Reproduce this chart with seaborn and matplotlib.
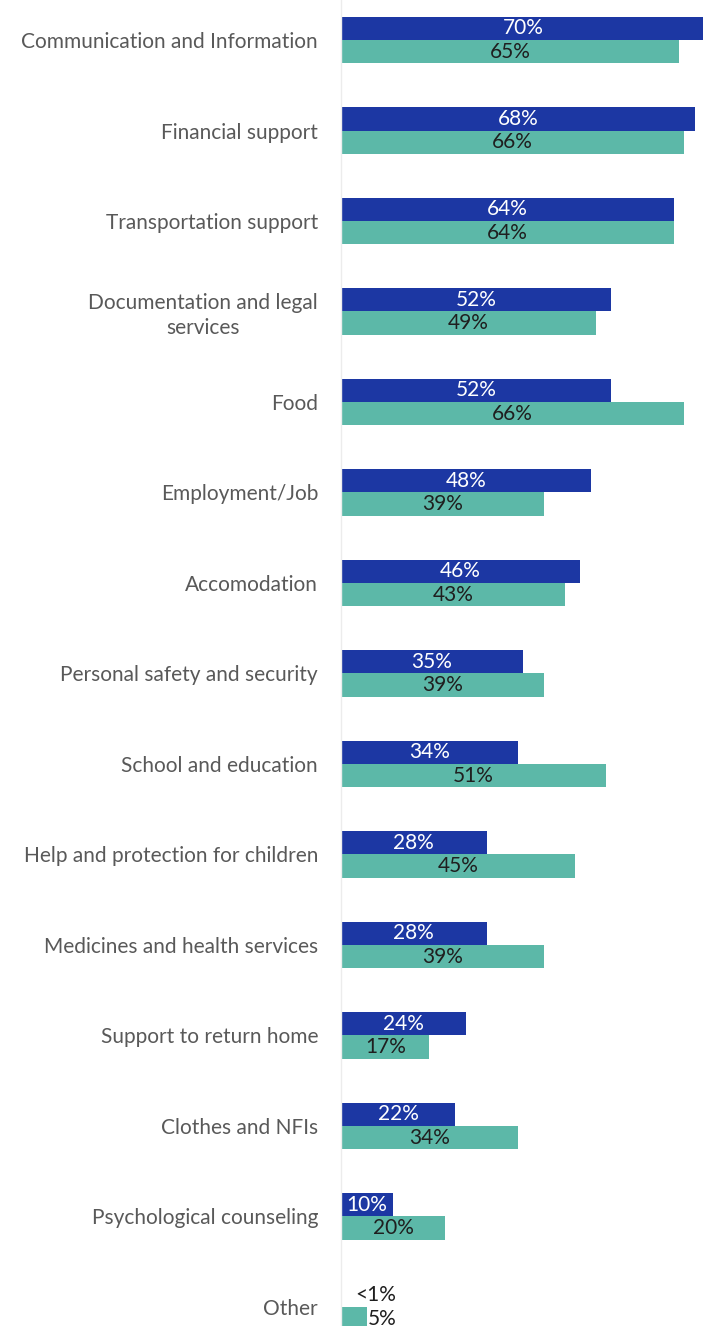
import pandas as pd
import seaborn as sns
import matplotlib.pyplot as plt

# Needs reported, share of respondents (%)
categories = [
    "Communication and Information",
    "Financial support",
    "Transportation support",
    "Documentation and legal\nservices",
    "Food",
    "Employment/Job",
    "Accomodation",
    "Personal safety and security",
    "School and education",
    "Help and protection for children",
    "Medicines and health services",
    "Support to return home",
    "Clothes and NFIs",
    "Psychological counseling",
    "Other",
]
series_a = [70, 68, 64, 52, 52, 48, 46, 35, 34, 28, 28, 24, 22, 10, 0.2]
series_b = [65, 66, 64, 49, 66, 39, 43, 39, 51, 45, 39, 17, 34, 20, 5]
labels_a = ["70%", "68%", "64%", "52%", "52%", "48%", "46%", "35%", "34%", "28%",
            "28%", "24%", "22%", "10%", "<1%"]
labels_b = ["65%", "66%", "64%", "49%", "66%", "39%", "43%", "39%", "51%", "45%",
            "39%", "17%", "34%", "20%", "5%"]

dark_blue = "#1c37a3"
teal = "#5cb8a8"

df = pd.DataFrame({
    "need": categories * 2,
    "value": series_a + series_b,
    "group": ["Series 1"] * len(categories) + ["Series 2"] * len(categories),
})

sns.set_style("white")
plt.rcParams["font.family"] = ["Lato", "DejaVu Sans"]

fig = plt.figure(figsize=(7.03, 13.26), dpi=100)
ax = fig.add_axes([341 / 703, 0, 1 - 341 / 703, 1])

sns.barplot(data=df, x="value", y="need", hue="group", order=categories,
            hue_order=["Series 1", "Series 2"], palette=[dark_blue, teal],
            orient="h", width=0.51, ax=ax, legend=False, saturation=1,
            linewidth=0)

ax.set_xlim(0, 69.6)
ax.set_ylim(14.21, -0.442)
ax.set_xlabel("")
ax.set_ylabel("")
ax.set_xticks([])
ax.tick_params(axis="y", length=0, pad=16.5, labelsize=15, labelcolor="#595959")
for lab in ax.get_yticklabels():
    lab.set_multialignment("center")
    lab.set_linespacing(1.3)

for s in ["top", "right", "bottom"]:
    ax.spines[s].set_visible(False)
ax.spines["left"].set_color("#ececec")
ax.spines["left"].set_linewidth(1)

# value labels
bars_a, bars_b = ax.containers[0], ax.containers[1]
for bars, labels, col in [(bars_a, labels_a, "white"), (bars_b, labels_b, "#1f1f1f")]:
    for bar, lab in zip(bars, labels):
        w = bar.get_width()
        yc = bar.get_y() + bar.get_height() / 2
        if w < 8:
            ax.text(max(w, 2.5) + 0.2, yc, lab, ha="left", va="center",
                    fontsize=15, color="#1f1f1f")
        else:
            ax.text(w / 2, yc, lab, ha="center", va="center",
                    fontsize=15, color=col)

fig.savefig("out.png", dpi=100)
